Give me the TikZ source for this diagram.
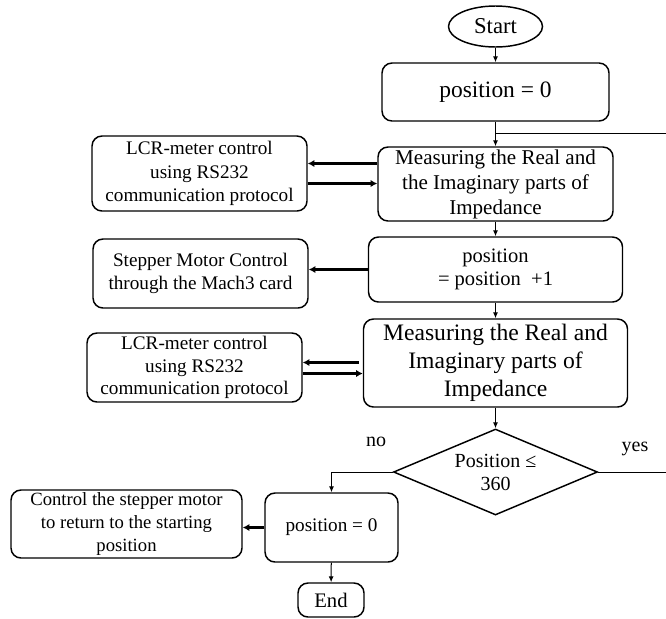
\documentclass[tikz,border=0pt]{standalone}
\usepackage{fontspec}
\setmainfont{Liberation Serif}
\usetikzlibrary{shapes.geometric,arrows.meta,calc}

\begin{document}
\begin{tikzpicture}[x=0.75pt,y=-0.75pt]
% Styles
\tikzstyle{boite}=[draw,rounded corners=7.5pt,line width=1.1pt,align=center,inner sep=0pt]
\tikzstyle{losange}=[draw,diamond,aspect=2.37,line width=1.1pt,align=center,inner sep=0pt]
\tikzstyle{fleche}=[-{Latex[length=4.5pt,width=3.8pt]},line width=0.75pt]
\tikzstyle{flechegrasse}=[-{Latex[length=5pt,width=5.5pt]},line width=2pt]
\tikzstyle{trait}=[line width=0.75pt]
% Dimensions
\def\px{0.75pt}
\def\colonne{495.5}
% Cadre
\useasboundingbox (0,0) rectangle (666,618);
% Colonne principale
\node[draw,ellipse,line width=1.1pt,inner sep=0pt,minimum width=94*\px,minimum height=41*\px,font={\fontsize{17}{20}\selectfont}] (debut) at (\colonne,26.5) {Start};
\node[boite,minimum width=227*\px,minimum height=58*\px,font={\fontsize{17.6}{21}\selectfont}] (init) at (\colonne,92) {position = 0};
\node[boite,minimum width=235*\px,minimum height=74*\px,font={\fontsize{15.8}{18.75}\selectfont}] (mesure1) at (\colonne,184) {Measuring the Real and\\the Imaginary parts of\\Impedance};
\node[boite,minimum width=254*\px,minimum height=65*\px,font={\fontsize{15.4}{17.25}\selectfont}] (increment) at (\colonne,269.5) {position\\= position \ +1};
\node[boite,minimum width=264*\px,minimum height=88*\px,font={\fontsize{17.7}{21}\selectfont}] (mesure2) at (\colonne,363) {Measuring the Real and\\Imaginary parts of\\Impedance};
\node[losange,minimum width=204*\px,minimum height=86*\px,font={\fontsize{15}{17.25}\selectfont}] (test) at (\colonne,472) {Position ≤\\360};
\node[boite,minimum width=133*\px,minimum height=69*\px,font={\fontsize{14.4}{17}\selectfont}] (raz) at (331.5,527.5) {position = 0};
\node[boite,minimum width=66*\px,minimum height=34*\px,font={\fontsize{15.5}{18}\selectfont}] (fin) at (331,600) {End};
% Colonne de gauche
\node[boite,minimum width=215*\px,minimum height=75*\px,font={\fontsize{14.4}{17.5}\selectfont}] (lcr1) at (199.5,173.5) {LCR-meter control\\using RS232\\communication protocol};
\node[boite,minimum width=215*\px,minimum height=69*\px,font={\fontsize{14.4}{17}\selectfont}] (moteur) at (200.5,273.5) {Stepper Motor Control\\through the Mach3 card};
\node[boite,minimum width=215*\px,minimum height=69*\px,font={\fontsize{14.4}{17}\selectfont}] (lcr2) at (194.5,367.5) {LCR-meter control\\using RS232\\communication protocol};
\node[boite,minimum width=231*\px,minimum height=68*\px,font={\fontsize{14}{16.9}\selectfont}] (retour) at (126.5,524) {Control the stepper motor\\to return to the starting\\position};
% Etiquettes
\node[font={\fontsize{15}{18}\selectfont}] (non) at (376,442) {no};
\node[font={\fontsize{15}{18}\selectfont}] (oui) at (635,449) {yes};
% Liaisons
\draw[fleche] (debut) -- (init);
\draw[fleche] (init) -- (mesure1);
\coordinate (boucle) at (666,133);
\draw[trait] (boucle) -- (boucle -| init.south);
\draw[flechegrasse] ($(mesure1.west |- lcr1.east)+(0,-10)$) -- ($(lcr1.east)+(0,-10)$);
\draw[flechegrasse] ($(lcr1.east)+(0,10)$) -- ($(mesure1.west |- lcr1.east)+(0,10)$);
\draw[fleche] (mesure1) -- (increment);
\draw[flechegrasse] (increment.west) -- (increment.west -| moteur.east);
\draw[fleche] (increment) -- (mesure2);
\draw[flechegrasse] ($(mesure2.west |- lcr2.east)+(-4,-5)$) -- ($(lcr2.east)+(0,-5)$);
\draw[flechegrasse] ($(lcr2.east)+(0,6)$) -- ($(mesure2.west |- lcr2.east)+(0,6)$);
\draw[fleche] (mesure2) -- (test);
\draw[fleche] (test.west) -| (raz.north);
\coordinate (sortie) at (666,472);
\draw[trait] (test.east) -- (sortie);
\draw[flechegrasse] (raz.west) -- (raz.west -| retour.east);
\draw[fleche] (raz) -- (fin);
\end{tikzpicture}
\end{document}
